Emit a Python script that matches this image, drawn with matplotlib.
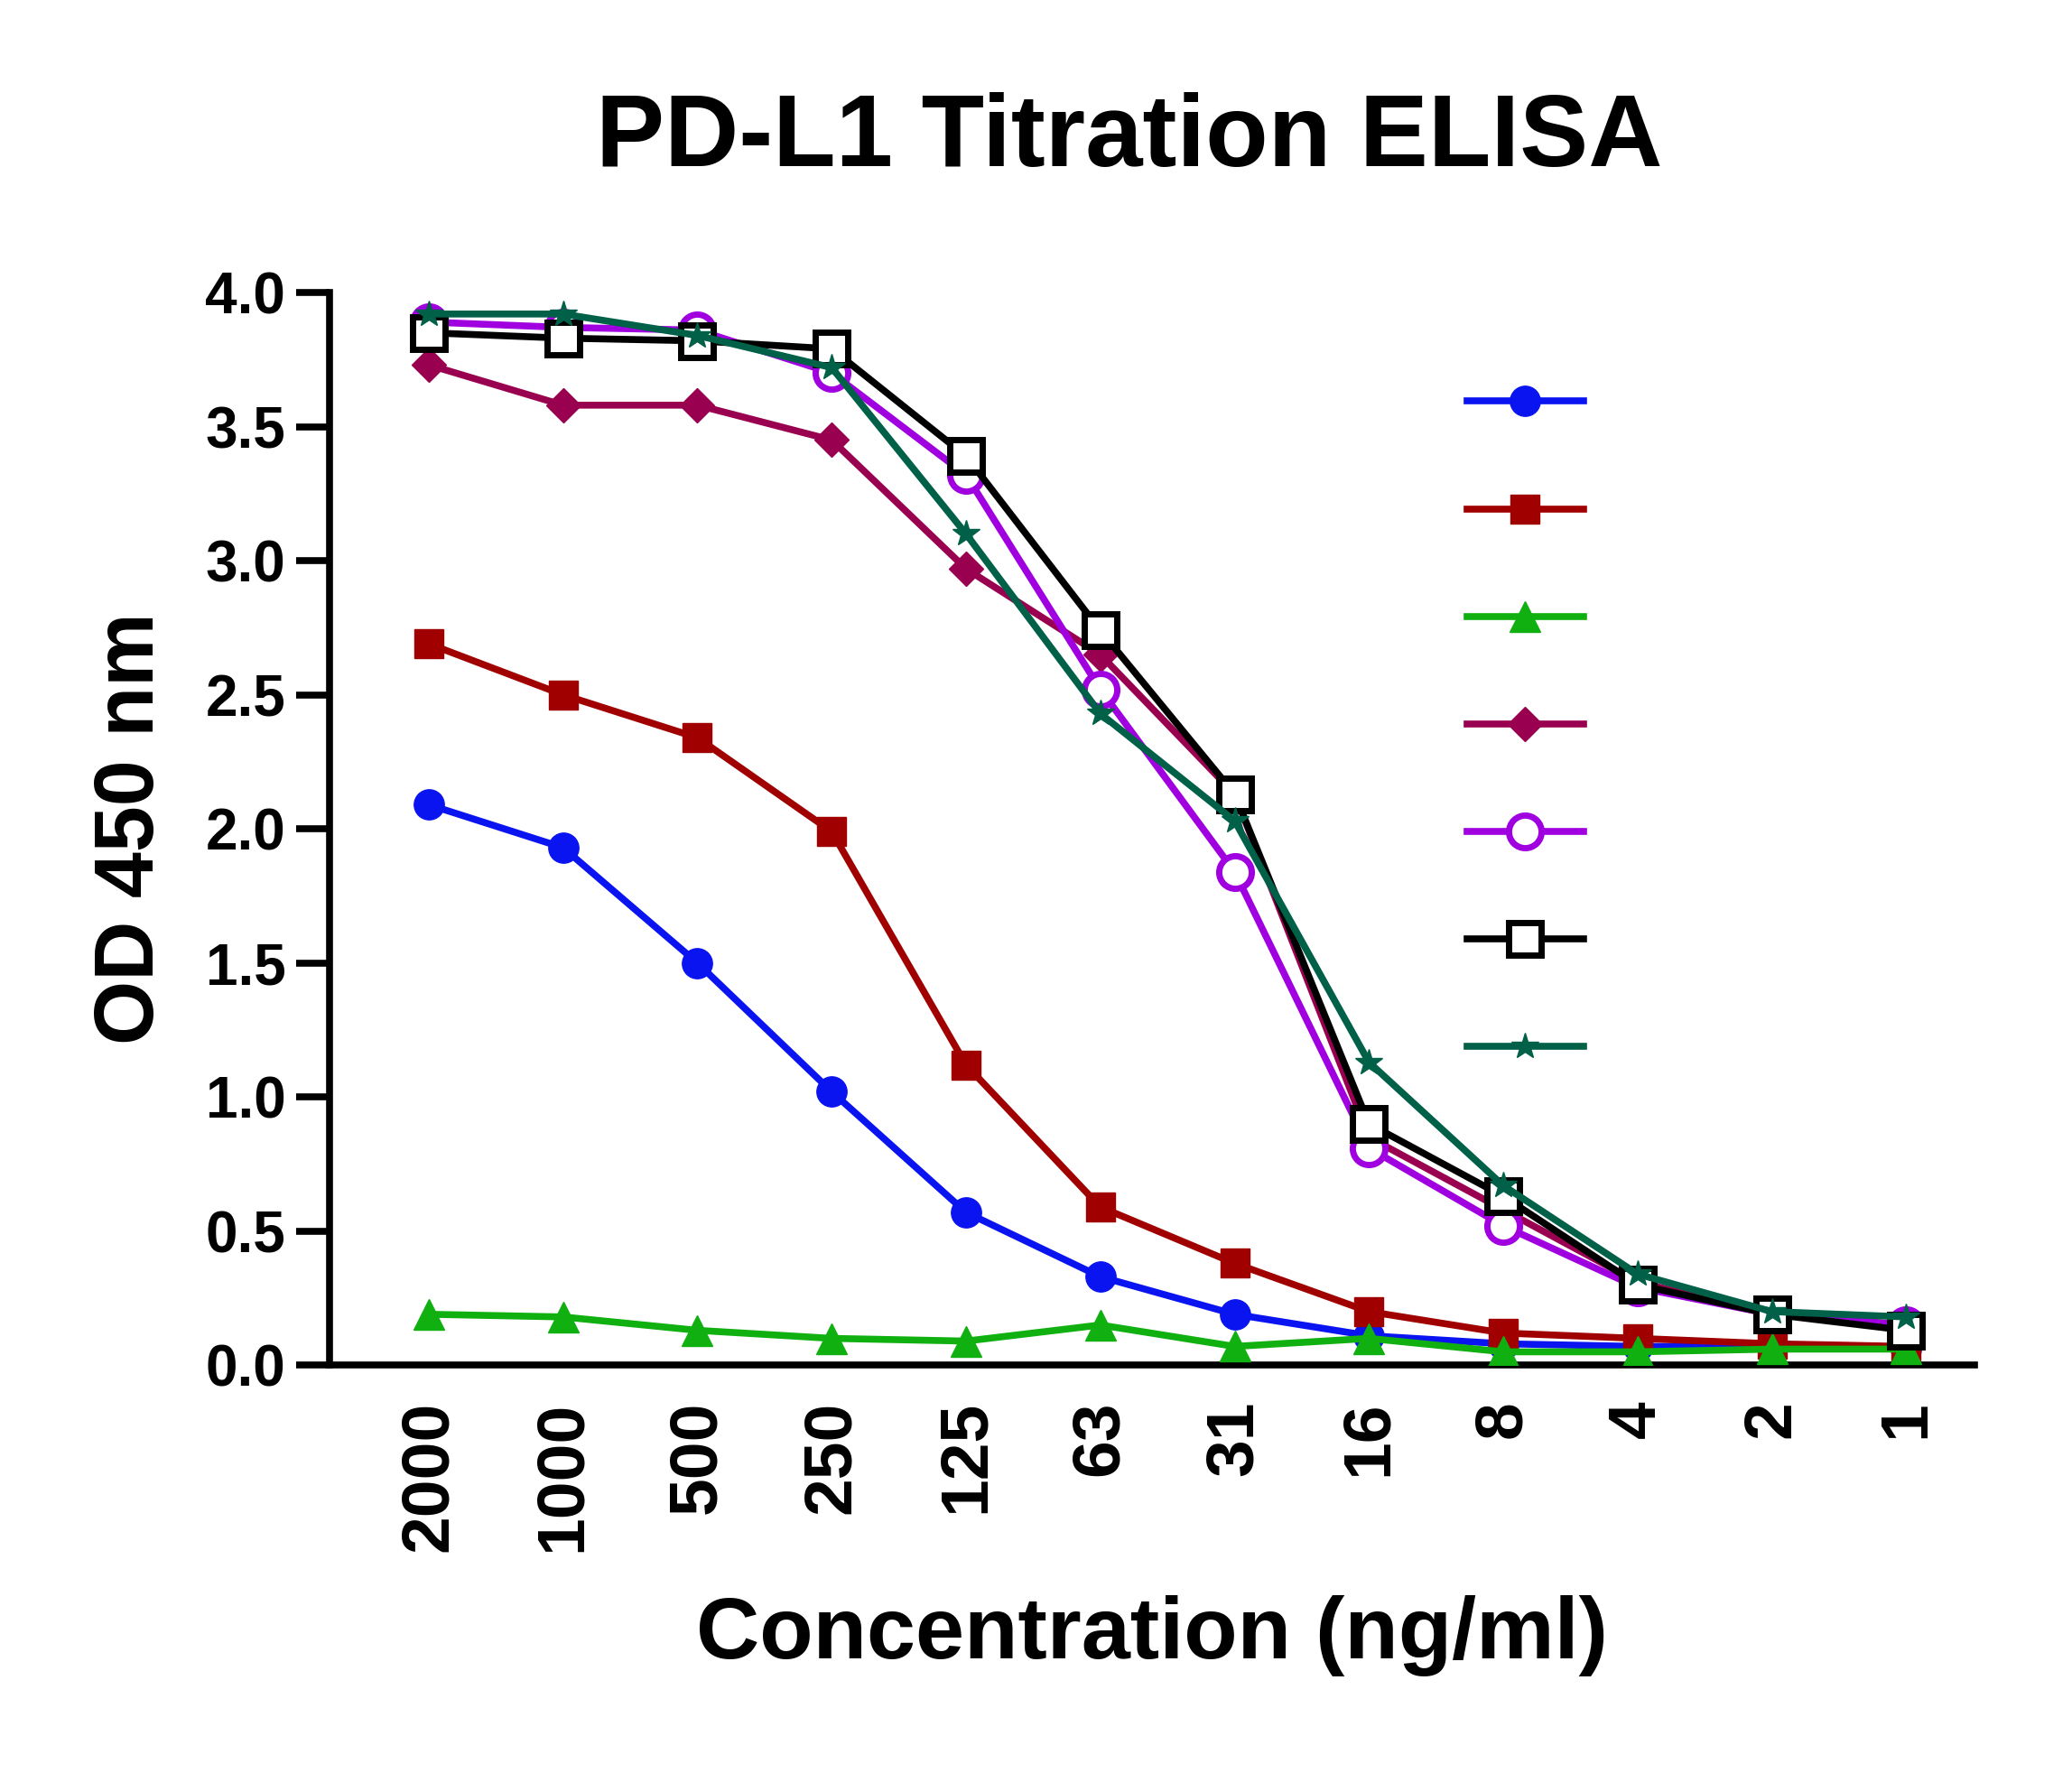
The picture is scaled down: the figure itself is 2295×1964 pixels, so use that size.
import matplotlib.pyplot as plt

plt.rcParams['font.family'] = ['Liberation Sans', 'DejaVu Sans']
plt.rcParams['font.weight'] = 'bold'

concentrations = ["2000", "1000", "500", "250", "125", "63", "31", "16", "8", "4", "2", "1"]

blue_vals = [2.09, 1.93, 1.50, 1.02, 0.57, 0.33, 0.19, 0.11, 0.08, 0.07, 0.07, 0.06]
red_vals = [2.69, 2.50, 2.34, 1.99, 1.12, 0.59, 0.38, 0.20, 0.12, 0.10, 0.08, 0.07]
green_vals = [0.19, 0.18, 0.13, 0.10, 0.09, 0.15, 0.07, 0.10, 0.05, 0.05, 0.06, 0.06]
maroon_vals = [3.73, 3.58, 3.58, 3.45, 2.97, 2.65, 2.13, 0.85, 0.58, 0.31, 0.19, 0.15]
purple_vals = [3.89, 3.87, 3.86, 3.70, 3.32, 2.52, 1.84, 0.81, 0.52, 0.29, 0.19, 0.15]
black_vals = [3.85, 3.83, 3.82, 3.79, 3.39, 2.74, 2.13, 0.90, 0.63, 0.30, 0.19, 0.13]
teal_vals = [3.92, 3.92, 3.84, 3.72, 3.10, 2.43, 2.03, 1.13, 0.67, 0.34, 0.20, 0.18]

series = [
    (blue_vals, "#0a14f0", "o", True, 24),
    (red_vals, "#a00000", "s", True, 23),
    (green_vals, "#10b010", "^", True, 24),
    (maroon_vals, "#990050", "D", True, 19),
    (purple_vals, "#a000e0", "o", False, 26),
    (black_vals, "#000000", "s", False, 26),
    (teal_vals, "#006048", "*", True, 22),
]

fig = plt.figure(figsize=(22.95, 19.64), dpi=100)
ax = fig.add_axes([0.159, 0.23, 0.794, 0.605])

x = list(range(len(concentrations)))
for vals, color, marker, filled, ms in series:
    ax.plot(x, vals, color=color, lw=5.5, marker=marker, markersize=ms,
            markerfacecolor=color if filled else "white",
            markeredgecolor=color, markeredgewidth=5 if not filled else 1,
            label=" ", zorder=3)

ax.set_xlim(-0.74, 11.51)
ax.set_ylim(0, 4.0)
ax.set_yticks([0, 0.5, 1.0, 1.5, 2.0, 2.5, 3.0, 3.5, 4.0])
ax.set_yticklabels([f"{v:.1f}" for v in ax.get_yticks()])
ax.set_xticks(x)
ax.set_xticklabels(concentrations, rotation=90)

for side in ["top", "right"]:
    ax.spines[side].set_visible(False)
for side in ["left", "bottom"]:
    ax.spines[side].set_linewidth(5.5)

ax.tick_params(axis="y", length=27, width=5.5, labelsize=46, pad=8)
ax.tick_params(axis="x", length=0, width=5.5, labelsize=54, pad=28)
for lab in ax.get_xticklabels() + ax.get_yticklabels():
    lab.set_fontweight("bold")

ax.set_xlabel("Concentration (ng/ml)", fontsize=70, fontweight="bold", labelpad=35)
ax.set_ylabel("OD 450 nm", fontsize=66, fontweight="bold", labelpad=28)
fig.suptitle("PD-L1 Titration ELISA", fontsize=82, fontweight="bold", x=0.545, y=0.948)

ax.legend(loc="upper left", bbox_to_anchor=(0.68, 0.93), frameon=False,
          fontsize=30, handlelength=3.1, labelspacing=1.9, borderpad=0,
          handletextpad=0.5)

fig.savefig("out.png", dpi=100)
